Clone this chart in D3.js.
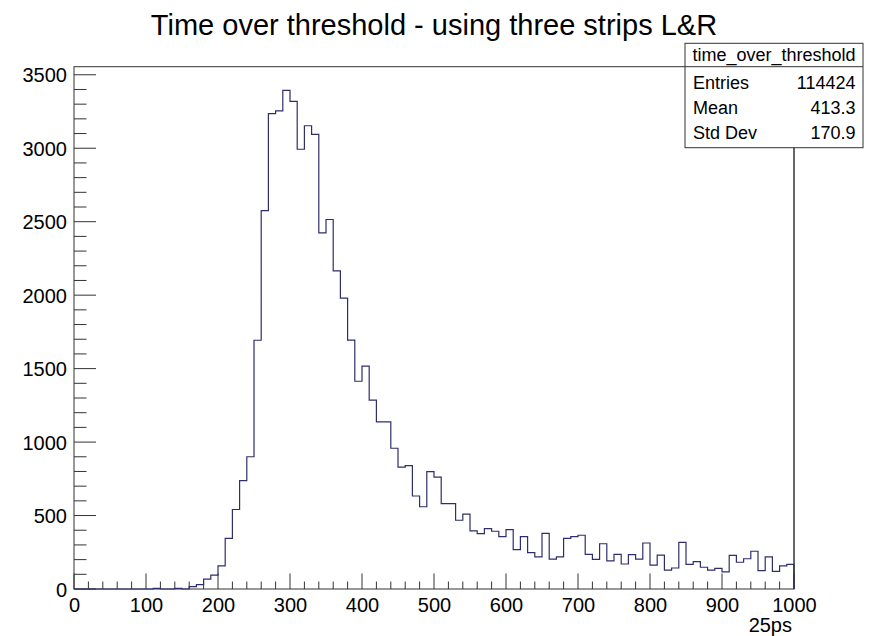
<!DOCTYPE html>
<html>
<head>
<meta charset="utf-8">
<script src="https://cdn.jsdelivr.net/npm/d3@7/dist/d3.min.js"></script>
<style>
  html, body { margin: 0; padding: 0; background: #fff; }
  svg { display: block; }
  text { font-family: "Liberation Sans", Arial, Helvetica, sans-serif; fill: #000; }
</style>
</head>
<body>
<svg id="chart" width="872" height="636"></svg>
<script>
// ---- data ----
const title = "Time over threshold - using three strips L&R";
const xAxisLabel = "25ps";
const binLow = 0, binHigh = 1000, binWidth = 10;
const counts = [
  0, 0, 0, 0, 0, 0, 0, 0, 0, 0,
  0, 4, 0, 0, 4, 0, 16, 30, 67, 95,
  157, 345, 541, 738, 900, 1693, 2576, 3235, 3254, 3394,
  3319, 2993, 3153, 3094, 2424, 2515, 2165, 1980, 1694, 1414,
  1517, 1286, 1138, 1137, 958, 829, 840, 633, 560, 799,
  761, 581, 581, 468, 509, 395, 377, 411, 393, 356,
  404, 268, 356, 247, 218, 379, 204, 218, 345, 356,
  366, 236, 202, 308, 191, 236, 170, 234, 204, 313,
  163, 231, 129, 143, 318, 168, 186, 148, 129, 141,
  116, 229, 182, 206, 257, 125, 218, 120, 157, 168
];
const xTicks = [0, 100, 200, 300, 400, 500, 600, 700, 800, 900, 1000];
const yTicks = [0, 500, 1000, 1500, 2000, 2500, 3000, 3500];
const statsName = "time_over_threshold";
const statsLabels = ["Entries", "Mean", "Std Dev"];
const statsValues = ["114424", "413.3", "170.9"];

// ---- layout ----
const svg = d3.select("#chart");
const frame = { left: 74, right: 794, top: 66.7, bottom: 589 };
const yMax = 3555;

const x = d3.scaleLinear().domain([binLow, binHigh]).range([frame.left, frame.right]);
const y = d3.scaleLinear().domain([0, yMax]).range([frame.bottom, frame.top]);

const axisColor = "#333";

// frame
svg.append("rect")
  .attr("x", frame.left).attr("y", frame.top)
  .attr("width", frame.right - frame.left).attr("height", frame.bottom - frame.top)
  .attr("fill", "none").attr("stroke", axisColor).attr("stroke-width", 1);

// x axis
const xAxis = d3.axisBottom(x).tickValues(xTicks).tickSize(0).tickFormat(d3.format("d"));
const gx = svg.append("g").attr("transform", `translate(0,${frame.bottom})`).call(xAxis);
gx.select(".domain").remove();
gx.selectAll("text").attr("font-size", 20).attr("dy", 0).attr("y", 23)
  .style("font-family", '"Liberation Sans", Arial, sans-serif');

// x ticks (inward, major + minor)
const xMinor = d3.range(binLow, binHigh + 0.001, 20);
svg.append("g").selectAll("line").data(xMinor).join("line")
  .attr("x1", d => x(d)).attr("x2", d => x(d))
  .attr("y1", frame.bottom)
  .attr("y2", d => frame.bottom - (d % 100 === 0 ? 15.5 : 7.5))
  .attr("stroke", axisColor).attr("stroke-width", 1);

// y axis
const yAxis = d3.axisLeft(y).tickValues(yTicks).tickSize(0).tickFormat(d3.format("d"));
const gy = svg.append("g").attr("transform", `translate(${frame.left},0)`).call(yAxis);
gy.select(".domain").remove();
gy.selectAll("text").attr("font-size", 20).attr("x", -7).attr("dy", "0.36em")
  .style("font-family", '"Liberation Sans", Arial, sans-serif');

const yMinor = d3.range(0, yMax, 100);
svg.append("g").selectAll("line").data(yMinor).join("line")
  .attr("y1", d => y(d)).attr("y2", d => y(d))
  .attr("x1", frame.left)
  .attr("x2", d => frame.left + (d % 500 === 0 ? 22 : 12.5))
  .attr("stroke", axisColor).attr("stroke-width", 1);

// histogram outline
const pts = [[binLow, 0]];
counts.forEach((c, i) => {
  const lo = binLow + i * binWidth;
  pts.push([lo, c], [lo + binWidth, c]);
});
pts.push([binHigh, 0]);
const line = d3.line().x(d => x(d[0])).y(d => y(d[1]));
svg.append("path").attr("d", line(pts))
  .attr("fill", "none").attr("stroke", "#2e2e6e").attr("stroke-width", 1.2);

// redraw frame right edge on top
svg.append("line").attr("x1", frame.right).attr("x2", frame.right)
  .attr("y1", frame.top).attr("y2", frame.bottom).attr("stroke", axisColor);

// x axis title
svg.append("text").attr("x", 792).attr("y", 631.5).attr("text-anchor", "end")
  .attr("font-size", 20).text(xAxisLabel);

// title
svg.append("text").attr("x", 434).attr("y", 35).attr("text-anchor", "middle")
  .attr("font-size", 29).text(title);

// stats box
const box = { left: 685, right: 863, top: 43.3, sep: 66.7, bottom: 147.7 };
svg.append("rect").attr("x", box.left).attr("y", box.top)
  .attr("width", box.right - box.left).attr("height", box.bottom - box.top)
  .attr("fill", "#fff").attr("stroke", axisColor).attr("stroke-width", 1);
svg.append("line").attr("x1", box.left).attr("x2", box.right)
  .attr("y1", box.sep).attr("y2", box.sep).attr("stroke", axisColor);
svg.append("text").attr("x", (box.left + box.right) / 2).attr("y", 61)
  .attr("text-anchor", "middle").attr("font-size", 18).text(statsName);
const rowBase = [89, 114, 139.3];
statsLabels.forEach((lab, i) => {
  svg.append("text").attr("x", 693).attr("y", rowBase[i]).attr("font-size", 18).text(lab);
  svg.append("text").attr("x", 855.5).attr("y", rowBase[i]).attr("text-anchor", "end")
    .attr("font-size", 18).text(statsValues[i]);
});
</script>
</body>
</html>
